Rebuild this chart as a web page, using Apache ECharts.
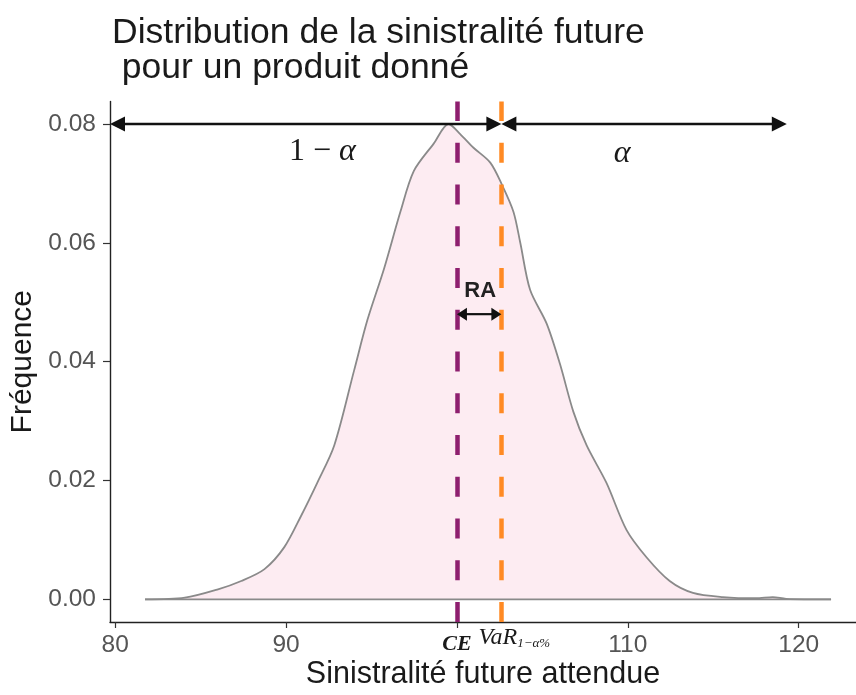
<!DOCTYPE html>
<html>
<head>
<meta charset="utf-8">
<script src="https://cdn.jsdelivr.net/npm/echarts@6/dist/echarts.min.js"></script>
<style>
  html, body { margin: 0; padding: 0; background: #ffffff; }
  #chart { width: 856px; height: 695px; }
</style>
</head>
<body>
<div id="chart"></div>
<script>
// Estimated density of future claims for one product
const lossValues = [81.75, 84.08, 86.02, 87.38, 88.74, 89.9, 90.87, 91.84, 92.82, 93.98, 94.76, 95.73, 96.7, 97.48, 98.64, 99.51, 100.19, 100.97, 101.95, 102.63, 103.31, 103.7, 104.28, 105.25, 106.03, 106.81, 107.59, 108.75, 109.92, 111.09, 112.45, 113.81, 115.56, 117.5, 118.48, 119.26, 121.89];
const density = [0, 0.0003, 0.0017, 0.0031, 0.0051, 0.0088, 0.014, 0.0197, 0.0259, 0.0385, 0.047, 0.0556, 0.0653, 0.0721, 0.0767, 0.08, 0.0783, 0.076, 0.0735, 0.0698, 0.0652, 0.0601, 0.0521, 0.0464, 0.0396, 0.0316, 0.0259, 0.0196, 0.0117, 0.0071, 0.0031, 0.0011, 0.0004, 0.0002, 0.0004, 0.0001, 0];

// Best estimate (CE) and Value-at-Risk
const ceValue = 100;
const varValue = 102.6;

// Axis ticks
const xTicks = [80, 90, 100, 110, 120];
const yTicks = [0, 0.02, 0.04, 0.06, 0.08];

// Probability-mass arrows (x1, y1, x2, y2) and the risk-adjustment arrow
const massArrows = [[79.7, 0.08, varValue, 0.08], [varValue, 0.08, 119.3, 0.08]];
const raArrow = [[ceValue, 0.048, varValue, 0.048]];

// Annotation texts and their anchors
const annotText = ['1 − α', 'α', 'RA'];
const annotX = [92.13, 109.66, 101.36];
const annotY = [0.0753, 0.075, 0.0519];

const curve = lossValues.map((x, i) => [x, density[i]]);
const baseline = [[lossValues[0], 0], [lossValues[lossValues.length - 1], 0]];

function arrowRenderer(head, halfW, lw) {
  return function (params, api) {
    const a = api.coord([api.value(0), api.value(1)]);
    const b = api.coord([api.value(2), api.value(3)]);
    const dx = b[0] - a[0], dy = b[1] - a[1];
    const len = Math.hypot(dx, dy);
    const ux = dx / len, uy = dy / len, nx = -uy, ny = ux;
    const headAt = (tip, dir) => [
      [tip[0], tip[1]],
      [tip[0] - dir * ux * head + nx * halfW, tip[1] - dir * uy * head + ny * halfW],
      [tip[0] - dir * ux * head - nx * halfW, tip[1] - dir * uy * head - ny * halfW]
    ];
    return {
      type: 'group',
      children: [
        { type: 'line', shape: { x1: a[0] + ux * head * 0.7, y1: a[1] + uy * head * 0.7, x2: b[0] - ux * head * 0.7, y2: b[1] - uy * head * 0.7 },
          style: { stroke: '#111', lineWidth: lw } },
        { type: 'polygon', shape: { points: headAt(a, -1) }, style: { fill: '#111' } },
        { type: 'polygon', shape: { points: headAt(b, 1) }, style: { fill: '#111' } }
      ]
    };
  };
}

const mathFont = "'Liberation Serif', 'DejaVu Serif', serif";
const sansFont = "'Liberation Sans', Arial, sans-serif";
const annotStyles = [
  { text: '{n|1 − }{a|α}', rich: {
      n: { fontFamily: mathFont, fontSize: 32, fill: '#1a1a1a' },
      a: { fontFamily: mathFont, fontSize: 32, fontStyle: 'italic', fill: '#1a1a1a' } } },
  { text: '{a|α}', rich: {
      a: { fontFamily: mathFont, fontSize: 32, fontStyle: 'italic', fill: '#1a1a1a' } } },
  { text: '{b|RA}', rich: {
      b: { fontFamily: sansFont, fontSize: 22, fontWeight: 'bold', fill: '#222' } } }
];

const chart = echarts.init(document.getElementById('chart'), null, { renderer: 'canvas' });

chart.setOption({
  animation: false,
  backgroundColor: '#ffffff',
  title: {
    text: 'Distribution de la sinistralité future\n pour un produit donné',
    left: 107,
    top: 11,
    textStyle: {
      fontFamily: sansFont,
      fontSize: 35.5,
      fontWeight: 'normal',
      color: '#1a1a1a',
      lineHeight: 35
    }
  },
  grid: { left: 108, right: 0, top: 101.4, bottom: 73 },
  xAxis: [
    {
      type: 'value',
      min: 79.7,
      max: 123.35,
      splitLine: { show: false },
      axisLine: { show: true, onZero: false, lineStyle: { color: '#222', width: 1.4 } },
      axisTick: { show: true, customValues: xTicks, length: 6, lineStyle: { color: '#333', width: 1.2 } },
      axisLabel: {
        customValues: xTicks,
        margin: 11,
        fontFamily: sansFont,
        fontSize: 24.5,
        color: '#555',
        formatter: v => (v === ceValue ? '{ce|CE}' : String(v)),
        rich: {
          ce: { fontFamily: mathFont, fontSize: 22, fontStyle: 'italic', fontWeight: 'bold', color: '#1a1a1a' }
        }
      },
      name: 'Sinistralité future attendue',
      nameLocation: 'middle',
      nameGap: 37,
      nameMoveOverlap: false,
      nameTextStyle: { fontFamily: sansFont, fontSize: 30.5, color: '#1a1a1a' }
    },
    {
      // second bottom axis carrying only the raised VaR label
      type: 'value',
      min: 79.7,
      max: 123.35,
      position: 'bottom',
      splitLine: { show: false },
      axisLine: { show: false, onZero: false },
      axisTick: { show: false },
      axisLabel: {
        customValues: [varValue],
        margin: 4,
        padding: [0, 0, 0, 26],
        formatter: () => '{v|VaR}{s|1−α%}',
        rich: {
          v: { fontFamily: mathFont, fontSize: 24, lineHeight: 24, verticalAlign: 'top', fontStyle: 'italic', color: '#1a1a1a' },
          s: { fontFamily: mathFont, fontSize: 13, lineHeight: 13, verticalAlign: 'bottom', fontStyle: 'italic', color: '#1a1a1a' }
        }
      }
    }
  ],
  yAxis: {
    type: 'value',
    min: -0.0038,
    max: 0.0838,
    splitLine: { show: false },
    axisLine: { show: true, onZero: false, lineStyle: { color: '#222', width: 1.4 } },
    axisTick: { show: true, customValues: yTicks, length: 7, lineStyle: { color: '#333', width: 1.2 } },
    axisLabel: {
      customValues: yTicks,
      margin: 14,
      fontFamily: sansFont,
      fontSize: 24.5,
      color: '#555',
      formatter: v => v.toFixed(2)
    },
    name: 'Fréquence',
    nameLocation: 'middle',
    nameGap: 72,
    nameMoveOverlap: false,
    nameTextStyle: { fontFamily: sansFont, fontSize: 30, color: '#1a1a1a' }
  },
  series: [
    {
      type: 'line',
      data: curve,
      showSymbol: false,
      smooth: 0.3,
      lineStyle: { color: '#8a8a8a', width: 1.8 },
      areaStyle: { color: '#fdecf2', opacity: 1 },
      z: 1,
      markLine: {
        silent: true,
        symbol: 'none',
        label: { show: false },
        data: [
          { xAxis: ceValue, lineStyle: { color: '#8e1f6f', width: 4.5, type: [20, 21.75] } },
          { xAxis: varValue, lineStyle: { color: '#ff8a24', width: 4.5, type: [20, 21.75] } }
        ]
      }
    },
    {
      type: 'line',
      data: baseline,
      showSymbol: false,
      lineStyle: { color: '#8a8a8a', width: 1.8 },
      z: 1
    },
    {
      type: 'custom',
      data: massArrows,
      encode: { x: [0, 2], y: [1, 3] },
      renderItem: arrowRenderer(15, 7.5, 2.6),
      z: 5
    },
    {
      type: 'custom',
      data: raArrow,
      encode: { x: [0, 2], y: [1, 3] },
      renderItem: arrowRenderer(10, 6.5, 2.2),
      z: 5
    },
    {
      type: 'custom',
      data: annotX.map((x, i) => [x, annotY[i], i]),
      encode: { x: 0, y: 1 },
      renderItem: function (params, api) {
        const p = api.coord([api.value(0), api.value(1)]);
        const s = annotStyles[api.value(2)];
        return {
          type: 'text',
          x: p[0],
          y: p[1],
          style: { text: s.text, rich: s.rich, align: 'center', verticalAlign: 'middle' }
        };
      },
      z: 6
    }
  ]
});
</script>
</body>
</html>
